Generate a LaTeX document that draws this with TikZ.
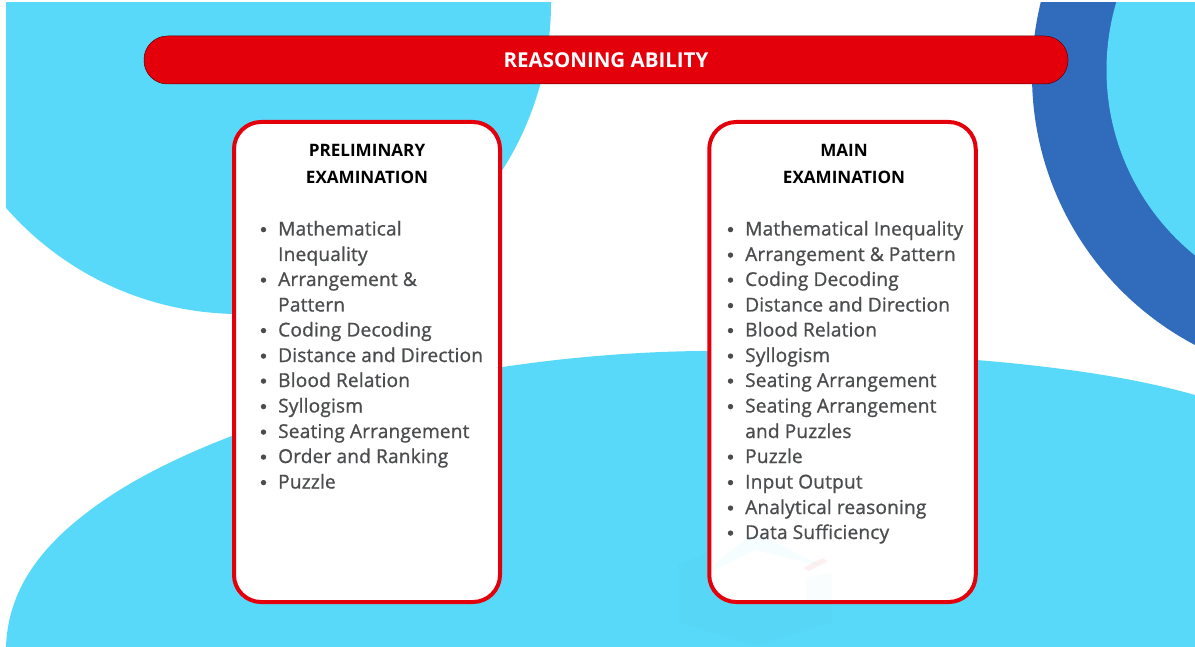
\documentclass[tikz,border=0pt]{standalone}
\usepackage{fontspec}
\setmainfont{Open Sans}
\newfontfamily\itemfont{Open Sans}[FakeBold=0.9,LetterSpace=0.9]
\newfontfamily\headfont{Open Sans Bold}
\definecolor{skyb}{HTML}{59D9F9}
\definecolor{ringb}{HTML}{306CBB}
\definecolor{redb}{HTML}{E3000B}
\definecolor{itemc}{HTML}{4A4C4E}
\tikzset{
  card/.style={draw=redb,line width=4pt,fill=white,rounded corners=27pt},
  itemt/.style={anchor=base west,inner sep=0pt,text=itemc,font=\itemfont\fontsize{19.1}{22}\selectfont},
  bul/.style={circle,fill=itemc,draw=none,inner sep=0pt,minimum size=5.4pt},
  headt/.style={anchor=base,inner sep=0pt,text=black,font=\headfont\fontsize{17.1}{20}\selectfont},
}
\newcommand{\itm}[3]{\node[bul] at (#1-14.5,#2-5.9) {}; \node[itemt] at (#1,#2) {#3};}
\begin{document}
\begin{tikzpicture}[x=1pt,y=-1pt]
\useasboundingbox (0,0) rectangle (1195,647);
\fill[white] (0,0) rectangle (1195,647);
\begin{scope}
  \clip (6,3) rectangle (1195,647);
  \fill[skyb] (240,3) circle[radius=311];
  \fill[ringb] (1337,75) circle[radius=305];
  \fill[skyb] (1345,70) circle[radius=238.5];
  \fill[skyb] (6,647) .. controls (8,590) and (40,545) .. (100,503)
     .. controls (210,425) and (450,354) .. (700,351)
     .. controls (900,350) and (1080,362) .. (1195,395) -- (1195,647) -- cycle;
\end{scope}
\node[draw=black!60!redb,line width=0.5pt,fill=redb,rounded corners=23.5pt,minimum width=924pt,minimum height=48pt,inner sep=0pt,text=white,font=\headfont\fontsize{20.5}{22}\selectfont] (bar) at (606,60) {\raisebox{-0.5pt}{REASONING ABILITY}};
% faint watermark on the blue ground
\fill[black!30!skyb,opacity=0.04] (755,532) -- (832,572) -- (832,622) -- (755,646) -- (678,622) -- (678,565) -- cycle;
\node[card,minimum width=266pt,minimum height=480pt,inner sep=0pt] (cardA) at (367,362) {};
\node[card,minimum width=266.5pt,minimum height=480pt,inner sep=0pt] (cardB) at (842.5,362) {};
% faint watermark on the card
\fill[skyb,opacity=0.05] (711,567) -- (755,532) -- (822,566) -- (755,550) -- (711,572) -- cycle;
\fill[skyb,opacity=0.03] (806,578) -- (832,572) -- (832,600) -- (806,600) -- cycle;
\fill[redb,opacity=0.06] (803,568) -- (822,558) -- (828,561) -- (809,571) -- cycle;
\node[headt] (ha1) at (367,156.5) {PRELIMINARY};
\node[headt] (ha2) at (367,183.5) {EXAMINATION};
\node[headt] (hb1) at (844,156.5) {MAIN};
\node[headt] (hb2) at (844,183.5) {EXAMINATION};
\itm{278}{235.5}{Mathematical}
\node[itemt] at (278,261) {Inequality};
\itm{278}{286}{Arrangement \&}
\node[itemt] at (278,311.5) {Pattern};
\itm{278}{336.5}{Coding Decoding}
\itm{278}{362}{Distance and Direction}
\itm{278}{387}{Blood Relation}
\itm{278}{412.5}{Syllogism}
\itm{278}{438}{Seating Arrangement}
\itm{278}{463}{Order and Ranking}
\itm{278}{488.5}{Puzzle}
\itm{745}{235.5}{Mathematical Inequality}
\itm{745}{261}{Arrangement \& Pattern}
\itm{745}{286}{Coding Decoding}
\itm{745}{311.5}{Distance and Direction}
\itm{745}{336.5}{Blood Relation}
\itm{745}{362}{Syllogism}
\itm{745}{387}{Seating Arrangement}
\itm{745}{412.5}{Seating Arrangement}
\node[itemt] at (745,438) {and Puzzles};
\itm{745}{463}{Puzzle}
\itm{745}{488.5}{Input Output}
\itm{745}{514}{Analytical reasoning}
\itm{745}{539}{Data Sufficiency}
\end{tikzpicture}
\end{document}
